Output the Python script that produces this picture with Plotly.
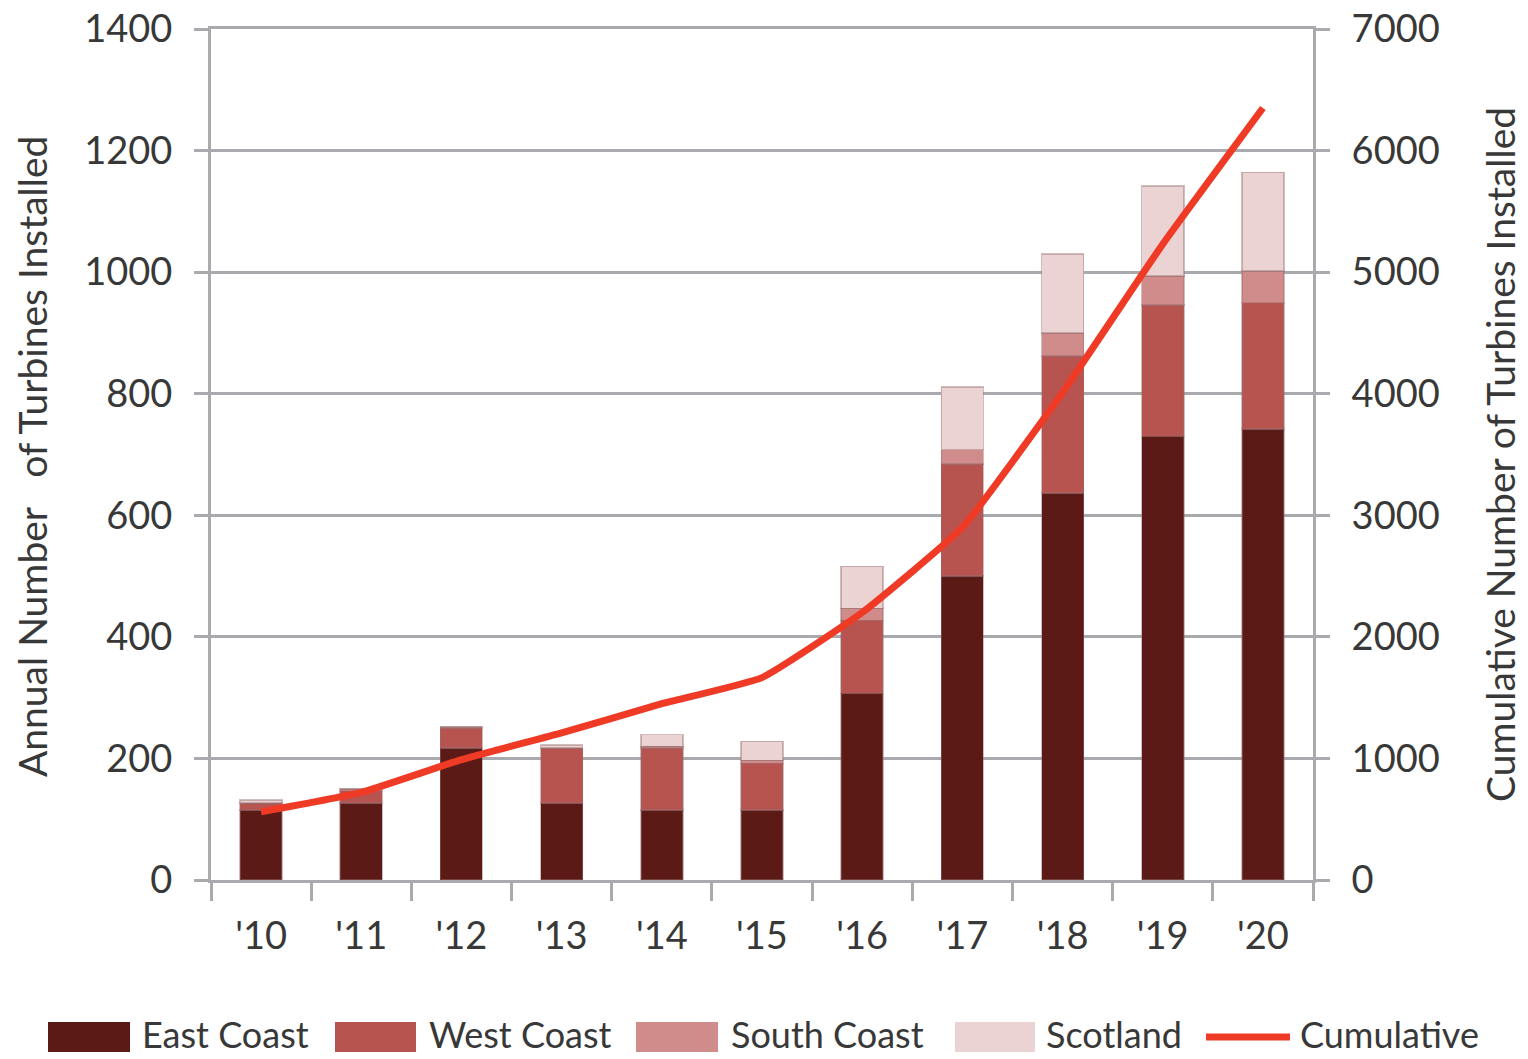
import plotly.graph_objects as go

# Installation years and annual turbine counts by region
years = ["'10", "'11", "'12", "'13", "'14", "'15", "'16", "'17", "'18", "'19", "'20"]
east_coast = [115, 127, 217, 127, 115, 115, 307, 500, 637, 730, 742]
west_coast = [12, 20, 33, 90, 102, 77, 120, 184, 225, 216, 208]
south_coast = [0, 3, 2, 0, 3, 5, 20, 24, 38, 48, 52]
scotland = [5, 0, 0, 5, 19, 31, 69, 103, 130, 148, 162]
cumulative = [560, 720, 990, 1210, 1450, 1665, 2200, 2900, 4010, 5230, 6350]

left_ticks = [0, 200, 400, 600, 800, 1000, 1200, 1400]
right_ticks = [0, 1000, 2000, 3000, 4000, 5000, 6000, 7000]

series = [
    ("East Coast", east_coast, "#5c1a17"),
    ("West Coast", west_coast, "#b85450"),
    ("South Coast", south_coast, "#d08b8b"),
    ("Scotland", scotland, "#ecd3d3"),
]
line_color = "#ef3b26"
text_color = "#383838"
grid_color = "#a9aaad"
font_family = "Lato, 'Open Sans', sans-serif"

fig = go.Figure()
for name, vals, color in series:
    fig.add_trace(go.Bar(
        x=years, y=vals, name=name,
        marker=dict(color=color, line=dict(color="rgba(150,110,110,0.45)", width=1.5)),
        showlegend=False,
    ))

fig.add_trace(go.Scatter(
    x=years, y=cumulative, name="Cumulative", yaxis="y2",
    mode="lines", line=dict(color=line_color, width=7, shape="spline", smoothing=0.4),
    showlegend=False,
))

# Legend drawn as swatches plus labels below the plot
L, R, T, B = 211, 1313, 29, 880
W, H = R - L, B - T


def px_x(px):
    return (px - L) / W


def px_y(py):
    return (B - py) / H


legend_items = [
    ("East Coast", "#5c1a17", 48, 130, 140),
    ("West Coast", "#b85450", 335, 416, 427),
    ("South Coast", "#d08b8b", 636, 718, 729),
    ("Scotland", "#ecd3d3", 955, 1035, 1044),
]
legend_font = dict(family=font_family, size=36, color=text_color)
shapes = []
annotations = []
for label, color, x0, x1, tx in legend_items:
    shapes.append(dict(type="rect", xref="paper", yref="paper",
                       x0=px_x(x0), x1=px_x(x1), y0=px_y(1052), y1=px_y(1022),
                       fillcolor=color, line=dict(width=0), layer="above"))
    annotations.append(dict(xref="paper", yref="paper", x=px_x(tx), y=px_y(1034),
                            text=label, showarrow=False, xanchor="left", yanchor="middle",
                            font=legend_font))
shapes.append(dict(type="line", xref="paper", yref="paper",
                   x0=px_x(1206), x1=px_x(1290), y0=px_y(1037), y1=px_y(1037),
                   line=dict(color=line_color, width=7), layer="above"))
annotations.append(dict(xref="paper", yref="paper", x=px_x(1298), y=px_y(1034),
                        text="Cumulative", showarrow=False, xanchor="left", yanchor="middle",
                        font=legend_font))

# Axis titles
title_font = dict(family=font_family, size=39, color=text_color)
annotations.append(dict(xref="paper", yref="paper", x=px_x(32), y=px_y(457),
                        text="Annual Number   of Turbines Installed", textangle=-90,
                        showarrow=False, xanchor="center", yanchor="middle",
                        font=title_font))
annotations.append(dict(xref="paper", yref="paper", x=px_x(1500), y=px_y(455),
                        text="Cumulative Number of Turbines Installed", textangle=-90,
                        showarrow=False, xanchor="center", yanchor="middle",
                        font=title_font))

tick_font = dict(family=font_family, size=38, color=text_color)

fig.update_layout(
    width=1528, height=1059,
    margin=dict(l=L, r=1528 - R, t=T, b=1059 - B),
    paper_bgcolor="white", plot_bgcolor="white",
    barmode="stack", bargap=0.58,
    font=dict(family=font_family, color=text_color),
    shapes=shapes, annotations=annotations,
    xaxis=dict(
        type="category", tickson="boundaries", ticks="outside", ticklen=18,
        tickwidth=3, tickcolor=grid_color, showline=True, mirror=True,
        linecolor=grid_color, linewidth=3, ticklabelstandoff=20,
        showgrid=False, tickfont=tick_font, automargin=False,
    ),
    yaxis=dict(
        range=[0, 1400], tickvals=left_ticks, ticktext=[str(v) for v in left_ticks],
        showgrid=True, gridcolor=grid_color, gridwidth=3,
        showline=True, linecolor=grid_color, linewidth=3,
        ticks="outside", ticklen=14, tickwidth=3, tickcolor=grid_color,
        ticklabelstandoff=14, tickfont=tick_font, zeroline=False, automargin=False,
    ),
    yaxis2=dict(
        range=[0, 7000], tickvals=right_ticks, ticktext=[str(v) for v in right_ticks],
        overlaying="y", side="right", showgrid=False,
        showline=True, linecolor=grid_color, linewidth=3,
        ticks="outside", ticklen=14, tickwidth=3, tickcolor=grid_color,
        ticklabelstandoff=14, tickfont=tick_font, zeroline=False, automargin=False,
    ),
)

fig.write_html("out.html")
